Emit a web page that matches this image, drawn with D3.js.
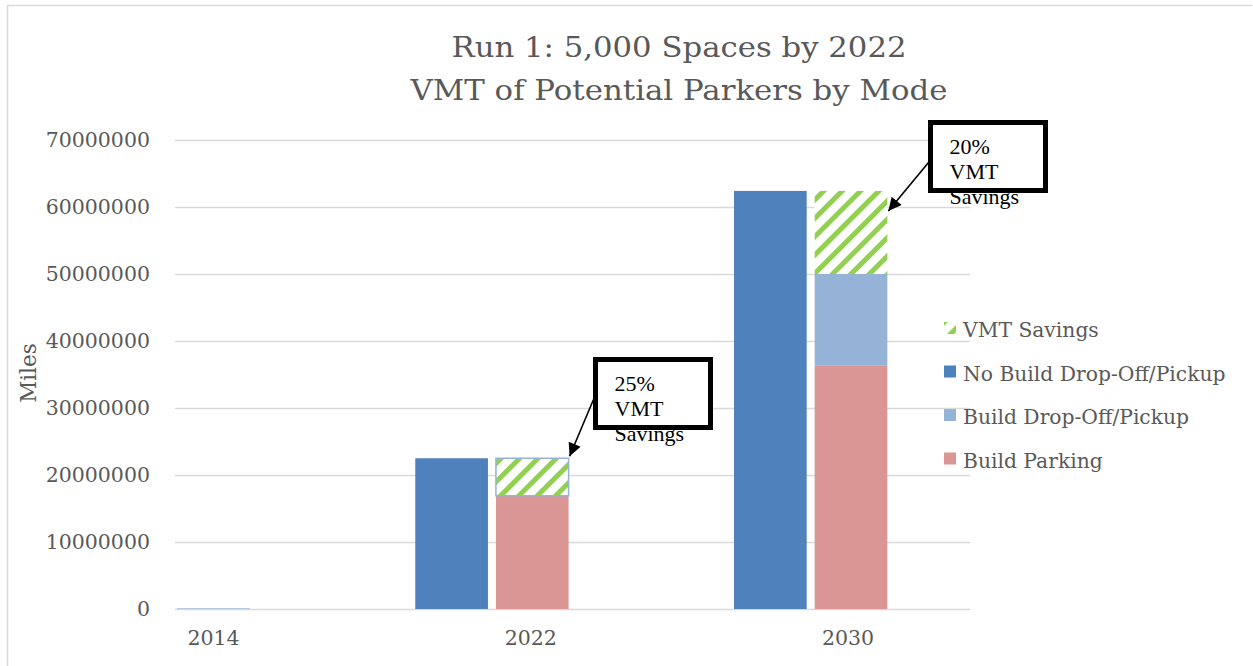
<!DOCTYPE html>
<html>
<head>
<meta charset="utf-8">
<script src="https://cdn.jsdelivr.net/npm/d3@7"></script>
<style>
  body { margin: 0; background: #fff; }
  svg { display: block; }
  text { font-family: "DejaVu Serif", serif; fill: #595959; }
</style>
</head>
<body>
<div id="chart"></div>
<script>
// chart values
let years = [2014, 2022, 2030];
let noBuildDropoff = [0, 22500000, 62400000];
let buildParking = [0, 16900000, 36300000];
let buildDropoff = [100000, 0, 13700000];
let vmtSavings = [0, 5600000, 12400000];
let yTicks = [0, 10000000, 20000000, 30000000, 40000000, 50000000, 60000000, 70000000];
let legendLabels = ["VMT Savings", "No Build Drop-Off/Pickup", "Build Drop-Off/Pickup", "Build Parking"];
let savingsNotes = [
  { year: 2022, lines: ["25%", "VMT", "Savings"] },
  { year: 2030, lines: ["20%", "VMT", "Savings"] }
];
let titleLines = ["Run 1: 5,000 Spaces by 2022", "VMT of Potential Parkers by Mode"];

let width = 1253,
  height = 666;

let colors = {
  noBuild: "#4f81bd",
  dropoff: "#95b3d7",
  parking: "#d99694",
  green: "#92d050"
};

let svg = d3.select("#chart").append("svg")
  .attr("width", width)
  .attr("height", height);

// hatch for the savings series
let defs = svg.append("defs");
let pat = defs.append("pattern")
  .attr("id", "hatch")
  .attr("patternUnits", "userSpaceOnUse")
  .attr("width", 13)
  .attr("height", 13)
  .attr("patternTransform", "rotate(45)");
pat.append("rect").attr("width", 13).attr("height", 13).attr("fill", "#fff");
pat.append("rect").attr("width", 5).attr("height", 13).attr("fill", colors.green);

// chart frame (only top and left edges are visible in the crop)
svg.append("path")
  .attr("d", "M7.5,667 V5.5 H1252")
  .attr("fill", "none")
  .attr("stroke", "#d9d9d9")
  .attr("stroke-width", 1.5);

let plotLeft = 175, plotRight = 970;

let y = d3.scaleLinear().domain([0, 70000000]).range([609, 140]);
let x = d3.scaleLinear().domain([2014, 2030]).range([213.5, 851]);

let step = x(2022) - x(2014);
let barW = step * 0.228;
let gap = step * 0.025;

// gridlines
svg.append("g")
  .selectAll("line")
  .data(yTicks)
  .enter()
  .append("line")
  .attr("x1", plotLeft)
  .attr("x2", plotRight)
  .attr("y1", d => Math.round(y(d)) + 0.5)
  .attr("y2", d => Math.round(y(d)) + 0.5)
  .attr("stroke", "#d9d9d9")
  .attr("stroke-width", 1.5);

// y tick labels
svg.append("g")
  .selectAll("text")
  .data(yTicks)
  .enter()
  .append("text")
  .attr("x", 150)
  .attr("y", d => y(d))
  .attr("dy", "0.36em")
  .attr("text-anchor", "end")
  .attr("font-size", "20.5px")
  .text(d => d3.format("d")(d));

// x labels
svg.append("g")
  .selectAll("text")
  .data(years)
  .enter()
  .append("text")
  .attr("x", (d, i) => x(d) - i * 1.5)
  .attr("y", 645)
  .attr("text-anchor", "middle")
  .attr("font-size", "20.5px")
  .text(d => d);

svg.append("text")
  .attr("transform", "translate(36,373) rotate(-90)")
  .attr("text-anchor", "middle")
  .attr("font-size", "21.5px")
  .text("Miles");

// rows for the bars
let rows = years.map((yr, i) => ({
  year: yr,
  noBuild: noBuildDropoff[i],
  parking: buildParking[i],
  dropoff: buildDropoff[i],
  savings: vmtSavings[i]
}));

let bars = svg.append("g");

// no build column, left of the year
bars.selectAll("rect.nb")
  .data(rows.filter(d => d.noBuild > 0))
  .enter()
  .append("rect")
  .attr("class", "nb")
  .attr("x", d => x(d.year) - barW / 2 - gap - barW)
  .attr("width", barW)
  .attr("y", d => y(d.noBuild))
  .attr("height", d => y(0) - y(d.noBuild))
  .attr("fill", colors.noBuild);

// build column, stacked
let stack = d3.stack().keys(["parking", "dropoff", "savings"]);
let series = stack(rows);
let fills = { parking: colors.parking, dropoff: colors.dropoff, savings: "url(#hatch)" };

bars.selectAll("g.layer")
  .data(series)
  .enter()
  .append("g")
  .attr("class", "layer")
  .attr("fill", d => fills[d.key])
  .selectAll("rect")
  .data(d => d.filter(p => p[1] - p[0] > 0).map(p => Object.assign(p, { key: d.key })))
  .enter()
  .append("rect")
  .attr("x", d => x(d.data.year) - barW / 2)
  .attr("width", barW)
  .attr("y", d => y(d[1]))
  .attr("height", d => y(d[0]) - y(d[1]))
  .attr("stroke", d => (d.key === "savings" && d.data.dropoff === 0) ? colors.dropoff : "none")
  .attr("stroke-width", 1.5);

// title
svg.append("g")
  .selectAll("text")
  .data(titleLines)
  .enter()
  .append("text")
  .attr("x", 679)
  .attr("y", (d, i) => 57 + i * 43)
  .attr("text-anchor", "middle")
  .attr("font-size", "28.5px")
  .attr("textLength", (d, i) => i === 0 ? 455 : 537)
  .attr("lengthAdjust", "spacingAndGlyphs")
  .text(d => d);

// legend
let legendKeys = ["savings", "noBuild", "dropoff", "parking"];
let legendFill = { savings: "url(#hatch)", noBuild: colors.noBuild, dropoff: colors.dropoff, parking: colors.parking };
let legend = svg.append("g")
  .selectAll("g")
  .data(legendLabels)
  .enter()
  .append("g")
  .attr("transform", (d, i) => "translate(944," + (337 + i * 43.5) + ")");

legend.append("rect")
  .attr("x", 0)
  .attr("y", -15)
  .attr("width", 12)
  .attr("height", 12)
  .attr("fill", (d, i) => legendFill[legendKeys[i]]);

legend.append("text")
  .attr("x", 19)
  .attr("y", 0)
  .attr("font-size", "20.3px")
  .text(d => d);

// callouts
let noteLayout = {
  2022: { bx: 595.5, by: 359.5, bw: 115, bh: 68, tipDy: 0 },
  2030: { bx: 930.5, by: 122.5, bw: 115, bh: 68, tipDy: 22 }
};

defs.append("marker")
  .attr("id", "arrow")
  .attr("viewBox", "0 0 10 10")
  .attr("refX", 10)
  .attr("refY", 5)
  .attr("markerWidth", 14)
  .attr("markerHeight", 13)
  .attr("markerUnits", "userSpaceOnUse")
  .attr("orient", "auto")
  .append("path")
  .attr("d", "M0,0 L10,5 L0,10 z")
  .attr("fill", "#000");

let notes = svg.append("g")
  .selectAll("g")
  .data(savingsNotes)
  .enter()
  .append("g");

notes.append("line")
  .attr("x1", d => noteLayout[d.year].bx - 2)
  .attr("y1", d => noteLayout[d.year].by + 40)
  .attr("x2", d => x(d.year) + barW / 2 + 1)
  .attr("y2", d => {
    let i = years.indexOf(d.year);
    return y(buildParking[i] + buildDropoff[i] + vmtSavings[i]) + noteLayout[d.year].tipDy - 2;
  })
  .attr("stroke", "#000")
  .attr("stroke-width", 1.6)
  .attr("marker-end", "url(#arrow)");

notes.append("rect")
  .attr("x", d => noteLayout[d.year].bx)
  .attr("y", d => noteLayout[d.year].by)
  .attr("width", d => noteLayout[d.year].bw)
  .attr("height", d => noteLayout[d.year].bh)
  .attr("fill", "#fff")
  .attr("stroke", "#000")
  .attr("stroke-width", 5);

notes.each(function(d) {
  let l = noteLayout[d.year];
  d3.select(this).append("text")
    .style("font-family", "'Liberation Serif', serif")
    .style("fill", "#000")
    .attr("font-size", "22px")
    .selectAll("tspan")
    .data(d.lines)
    .enter()
    .append("tspan")
    .attr("x", l.bx + 19)
    .attr("y", (t, i) => l.by + 31 + i * 25)
    .text(t => t);
});
</script>
</body>
</html>
